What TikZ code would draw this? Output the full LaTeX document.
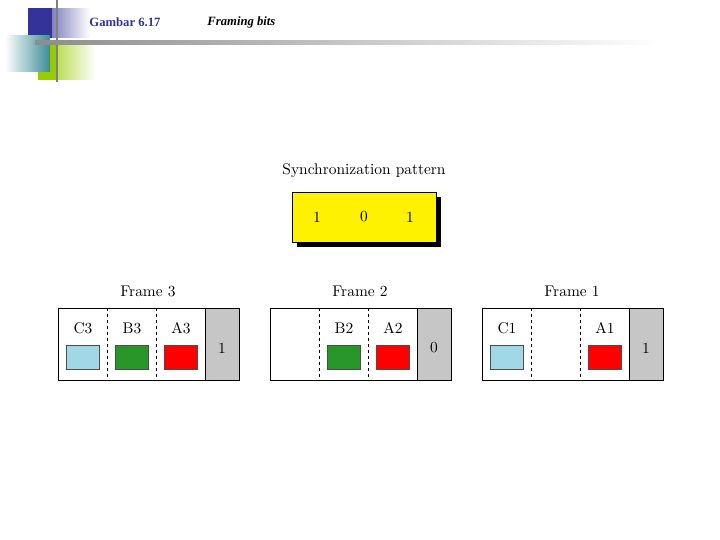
\documentclass[tikz,border=0pt]{standalone}
\usepackage{fontspec}
\newfontfamily\tnr{Liberation Serif}
\usetikzlibrary{fadings}
\definecolor{navy}{RGB}{51,51,153}
\definecolor{teal2}{RGB}{60,140,150}
\definecolor{lime}{RGB}{153,204,0}
\definecolor{cy}{RGB}{160,216,230}
\definecolor{gr}{RGB}{40,150,40}
\begin{document}
\begin{tikzpicture}[x=1bp,y=-1bp,
  lbl/.style={scale=1.55,transform shape},
  ttl/.style={scale=1.27,transform shape,anchor=west},
  sq/.style={draw=black!70,minimum width=33bp,minimum height=24bp,inner sep=0},
  dv/.style={dashed}]
\useasboundingbox (0,0) rectangle (720,540);
% decoration
\fill[navy,path fading=east] (28,8) rectangle (90,38);
\fill[navy] (28,8) rectangle (52,38);
\fill[lime,path fading=east] (38,42) rectangle (95,80);
\fill[lime] (38,42) rectangle (58,80);
\shade[left color=white,right color=teal2] (5,36) rectangle (50,72);
\draw[gray,line width=2.5bp] (57,0) -- (57,82);
\shade[left color=gray!90,right color=white] (35,41) rectangle (660,44.5);
\node[ttl,text=navy,font=\tnr\bfseries] (t1) at (85,22) {Gambar 6.17};
\node[ttl,font=\tnr\bfseries\itshape] (t2) at (203,22) {Framing bits};
% sync
\node[lbl] (sp) at (364,171) {Synchronization pattern};
\fill[black] (297,197) rectangle (441,247);
\node[draw,fill=yellow,minimum width=144bp,minimum height=50bp,inner sep=0] (yb) at (364,217) {};
\node[lbl] (y1) at (317,217) {1};
\node[lbl] (y2) at (364,217) {0};
\node[lbl] (y3) at (410,217) {1};
% frames
\foreach \x/\n/\b/\lc/\lb/\la in {58/3/1/C3/B3/A3, 270/2/0//B2/A2, 482/1/1/C1//A1}{
  \begin{scope}[shift={(\x,0)}]
  \fill[gray!45] (147,308) rectangle (181,380);
  \draw (0,308) rectangle (181,380);
  \draw (147,308) -- (147,380);
  \draw[dv] (49,308) -- (49,380);
  \draw[dv] (98,308) -- (98,380);
  \node[lbl] at (90,291) {Frame \n};
  \node[lbl] at (164,348) {\b};
  \node[lbl] at (25,328) {\lc};
  \node[lbl] at (74,328) {\lb};
  \node[lbl] at (123,328) {\la};
  \end{scope}}
\node[sq,fill=cy] (c3) at (82.5,357) {};
\node[sq,fill=gr] (b3) at (131.5,357) {};
\node[sq,fill=red] (a3) at (180.5,357) {};
\node[sq,fill=gr] (b2) at (343.5,357) {};
\node[sq,fill=red] (a2) at (392.5,357) {};
\node[sq,fill=cy] (c1) at (506.5,357) {};
\node[sq,fill=red] (a1) at (604.5,357) {};
\end{tikzpicture}
\end{document}
